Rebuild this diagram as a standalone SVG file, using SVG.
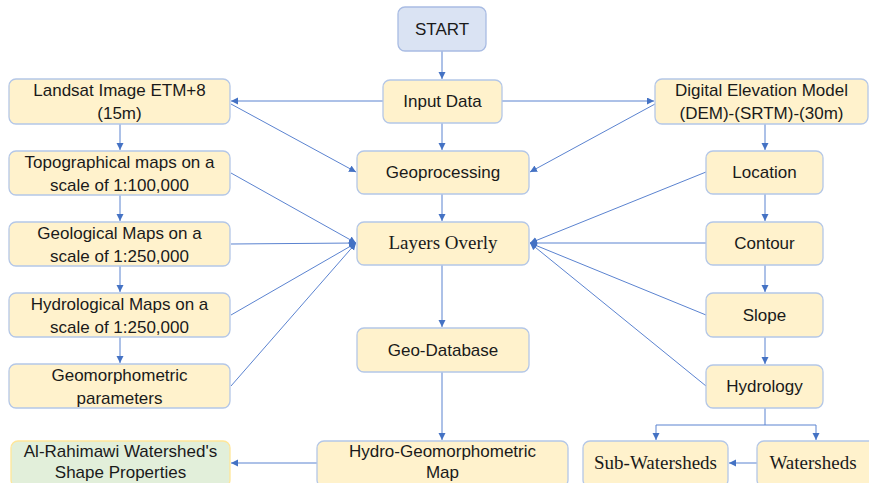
<svg xmlns="http://www.w3.org/2000/svg" width="869" height="483" viewBox="0 0 869 483">
<defs>
<marker id="ah" markerUnits="userSpaceOnUse" markerWidth="8" markerHeight="8" refX="7" refY="3.5" orient="auto">
<path d="M0,0 L7,3.5 L0,7 z" fill="#4472C4"/>
</marker>
<style>
.box{fill:#FFF2CC;stroke:#B4C7E7;stroke-width:1.3}
.start{fill:#DAE3F3;stroke:#A9BCE3;stroke-width:1.3}
.green{fill:#E2EFDA;stroke:#FFE699;stroke-width:1.3}
.t{font-family:"Liberation Sans",Arial,sans-serif;font-size:17px;fill:#1a1a1a;text-anchor:middle}
.s{font-family:"Liberation Serif","Times New Roman",serif;font-size:19px;fill:#1a1a1a;text-anchor:middle}
.c{fill:none;stroke:#5B83D0;stroke-width:1}
.a{marker-end:url(#ah)}
</style>
</defs>
<rect width="869" height="483" fill="#fff"/>
<g id="connectors">
<path class="c a" d="M442,51 V79"/>
<path class="c a" d="M442,123 V150"/>
<path class="c a" d="M442,194 V221"/>
<path class="c a" d="M442,265 V327"/>
<path class="c a" d="M442,372 V440"/>
<path class="c a" d="M383,101 H231"/>
<path class="c a" d="M502,101 H654"/>
<path class="c a" d="M231,104 L356,172"/>
<path class="c a" d="M655,104 L530,172"/>
<path class="c a" d="M120,124 V150"/>
<path class="c a" d="M120,195 V221"/>
<path class="c a" d="M120,266 V292"/>
<path class="c a" d="M120,337 V363"/>
<path class="c a" d="M765,124 V150"/>
<path class="c a" d="M765,194 V221"/>
<path class="c a" d="M765,265 V292"/>
<path class="c a" d="M765,337 V364"/>
<path class="c a" d="M231,173 L356,243"/>
<path class="c a" d="M231,244 L356,243"/>
<path class="c a" d="M231,315 L356,243"/>
<path class="c a" d="M231,386 L356,243"/>
<path class="c a" d="M706,172 L530,243"/>
<path class="c a" d="M706,243 L530,243"/>
<path class="c a" d="M706,315 L530,243"/>
<path class="c a" d="M706,386 L530,243"/>
<path class="c" d="M765,408 V425 M656,425 H816"/>
<path class="c a" d="M656,425 V440"/>
<path class="c a" d="M816,425 V440"/>
<path class="c a" d="M757,463 H729"/>
<path class="c a" d="M317,463 H231"/>
</g>
<g id="start"><rect class="start" x="398" y="7" width="88" height="44" rx="7"/><text class="t" x="442" y="35">START</text></g>
<g id="input-data"><rect class="box" x="383" y="80" width="119" height="43" rx="7"/><text class="t" x="442.5" y="107">Input Data</text></g>
<g id="geoprocessing"><rect class="box" x="357" y="151" width="172" height="43" rx="7"/><text class="t" x="443" y="178">Geoprocessing</text></g>
<g id="layers-overly"><rect class="box" x="357" y="222" width="172" height="43" rx="7"/><text class="s" x="443" y="249">Layers Overly</text></g>
<g id="geo-database"><rect class="box" x="357" y="328" width="172" height="44" rx="7"/><text class="t" x="443" y="356">Geo-Database</text></g>
<g id="hydro-geo-map"><rect class="box" x="317" y="441" width="251" height="46" rx="7"/><text class="t" x="442.5" y="457">Hydro-Geomorphometric</text><text class="t" x="442.5" y="478">Map</text></g>
<g id="landsat"><rect class="box" x="9" y="79" width="221" height="45" rx="7"/><text class="t" x="119.5" y="96">Landsat Image ETM+8</text><text class="t" x="119.5" y="119">(15m)</text></g>
<g id="topographical"><rect class="box" x="9" y="151" width="221" height="44" rx="7"/><text class="t" x="119.5" y="168">Topographical maps on a</text><text class="t" x="119.5" y="191">scale of 1:100,000</text></g>
<g id="geological"><rect class="box" x="9" y="222" width="221" height="44" rx="7"/><text class="t" x="119.5" y="239">Geological Maps on a</text><text class="t" x="119.5" y="262">scale of 1:250,000</text></g>
<g id="hydrological"><rect class="box" x="9" y="293" width="221" height="44" rx="7"/><text class="t" x="119.5" y="310">Hydrological Maps on a</text><text class="t" x="119.5" y="333">scale of 1:250,000</text></g>
<g id="geomorphometric"><rect class="box" x="9" y="364" width="221" height="44" rx="7"/><text class="t" x="119.5" y="381">Geomorphometric</text><text class="t" x="119.5" y="404">parameters</text></g>
<g id="al-rahimawi"><rect class="green" x="11" y="441" width="219" height="46" rx="7"/><text class="t" x="120.5" y="457">Al-Rahimawi Watershed's</text><text class="t" x="120.5" y="478">Shape Properties</text></g>
<g id="dem"><rect class="box" x="655" y="79" width="213" height="45" rx="7"/><text class="t" x="761.5" y="96">Digital Elevation Model</text><text class="t" x="761.5" y="119">(DEM)-(SRTM)-(30m)</text></g>
<g id="location"><rect class="box" x="706" y="151" width="117" height="43" rx="7"/><text class="t" x="764.5" y="178">Location</text></g>
<g id="contour"><rect class="box" x="706" y="222" width="117" height="43" rx="7"/><text class="t" x="764.5" y="249">Contour</text></g>
<g id="slope"><rect class="box" x="706" y="293" width="117" height="44" rx="7"/><text class="t" x="764.5" y="321">Slope</text></g>
<g id="hydrology"><rect class="box" x="706" y="365" width="117" height="43" rx="7"/><text class="t" x="764.5" y="392">Hydrology</text></g>
<g id="sub-watersheds"><rect class="box" x="583" y="441" width="145" height="46" rx="7"/><text class="s" x="655.5" y="469">Sub-Watersheds</text></g>
<g id="watersheds"><rect class="box" x="757" y="441" width="120" height="46" rx="7"/><text class="s" x="813" y="469">Watersheds</text></g>
</svg>
